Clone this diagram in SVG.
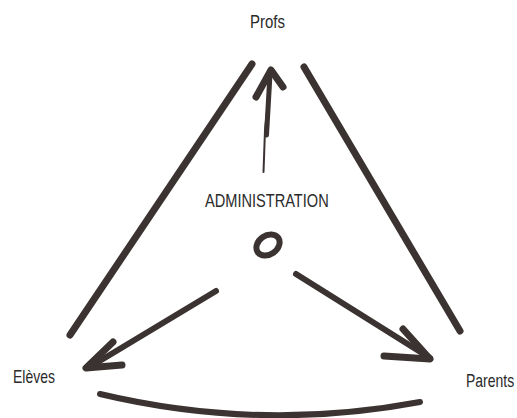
<svg xmlns="http://www.w3.org/2000/svg" width="517" height="418" viewBox="0 0 517 418">
<style>
.lbl{font-family:"Liberation Sans",Arial,sans-serif;font-size:14px;fill:#2a2a2a;}
.stroke{fill:none;stroke:#3b3331;stroke-linecap:round;stroke-linejoin:round;}
</style>
<rect width="517" height="418" fill="#ffffff"/>
<g id="profs"><text class="lbl" transform="translate(250 28) scale(1 1.25)" style="font-size:15px">Profs</text></g>
<g id="eleves"><text class="lbl" transform="translate(13 383) scale(1 1.32)">Elèves</text></g>
<g id="parents"><text class="lbl" transform="translate(466 387) scale(1 1.32)">Parents</text></g>
<g id="administration">
<text class="lbl" transform="translate(205 207) scale(1 1.27)" style="font-size:14.6px">ADMINISTRATION</text>
<ellipse cx="268" cy="245" rx="12.5" ry="9.5" transform="rotate(-35 268 245)" class="stroke" stroke-width="6"/>
</g>
<g id="connectors">
<line x1="252" y1="64" x2="70" y2="335" class="stroke" stroke-width="7"/>
<line x1="304" y1="67" x2="460" y2="331" class="stroke" stroke-width="7"/>
<path d="M100 394 Q260 432 420 402" class="stroke" stroke-width="6"/>
<path d="M263.5 172 L265 130 L271 72" class="stroke" stroke-width="2"/>
<path d="M266.5 135 L270 74" class="stroke" stroke-width="5"/>
<path d="M256 97 L271 70 L283 87" class="stroke" stroke-width="7"/>
<path d="M216 291 L88 368" class="stroke" stroke-width="6"/>
<path d="M113 342 L86 368 L122 365" class="stroke" stroke-width="7"/>
<path d="M296 274 L430 358" class="stroke" stroke-width="6"/>
<path d="M403 329 L430 359 L384 356" class="stroke" stroke-width="7"/>
</g>
</svg>
